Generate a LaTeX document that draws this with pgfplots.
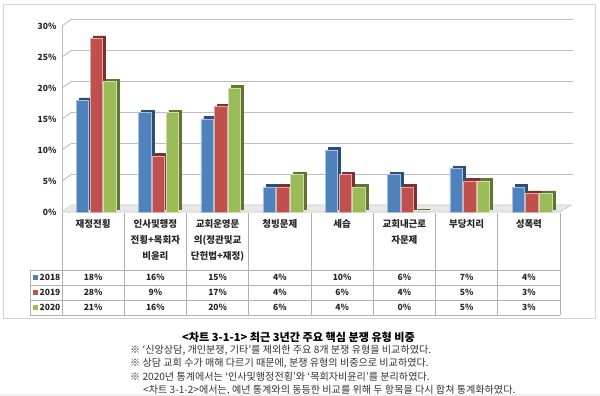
\documentclass[border=0pt]{standalone}
\usepackage{fontspec}
\setmainfont{Noto Sans CJK KR}
\usepackage{pgfplots}
\usepackage{pgfplotstable}
\pgfplotsset{compat=1.18}
\definecolor{cb}{HTML}{4F81BD}
\definecolor{cbd}{HTML}{2C4D75}
\definecolor{cbl}{HTML}{A7C0DE}
\definecolor{cr}{HTML}{C0504D}
\definecolor{crd}{HTML}{7F302E}
\definecolor{crl}{HTML}{E0A8A6}
\definecolor{cg}{HTML}{9BBB59}
\definecolor{cgd}{HTML}{5F7530}
\definecolor{cgl}{HTML}{CDDDAC}
\definecolor{gridc}{HTML}{BDBDBD}
\definecolor{tabc}{HTML}{B0B0B0}
\pgfplotstableread{
x a b c
0 18 28 21
1 16 9 16
2 15 17 20
3 4 4 6
4 10 6 4
5 6 4 0
6 7 5 5
7 4 3 3
}\data
\begin{document}
\begin{tikzpicture}[x=1pt,y=1pt]
\useasboundingbox (0,0) rectangle (600,396);
\fill[white] (0,0) rectangle (600,396);
% outer frame
\draw[gray!35, line width=1pt] (3,77) rectangle (595,391);
% back wall gridlines
\begin{axis}[at={(72pt,191pt)}, anchor=south west, scale only axis,
  width=501pt, height=186pt, xmin=0, xmax=1, ymin=0, ymax=30,
  xtick=\empty, ytick={5,10,...,30}, yticklabels={}, ymajorgrids,
  grid style={gridc, line width=0.9pt}, axis line style={draw=none},
  major tick length=0pt]
\addplot[draw=none] coordinates {(0,0) (1,30)};
\end{axis}
% left wall
\foreach \v in {0,5,...,30}
  \draw[gridc, line width=0.9pt] (62,{184+6.2*\v}) -- (72,{191+6.2*\v});
\draw[gridc, line width=0.9pt] (62,184) -- (62,370);
% floor
\fill[gray!18] (62,184) -- (560,184) -- (571,191) -- (72,191) -- cycle;
\draw[gray!45, line width=0.7pt] (62,184) -- (560,184) -- (571,191) -- (72,191);
% bars
\begin{axis}[at={(62pt,184pt)}, anchor=south west, scale only axis,
  width=498pt, height=186pt, xmin=-0.5, xmax=7.5, ymin=0, ymax=30,
  ybar, bar width=0.2, axis line style={draw=none}, major tick length=0pt,
  clip=false,
  xtick={0,...,7},
  xticklabels={재정전횡, {인사및행정\\전횡+목회자\\비윤리}, {교회운영문\\의(정관및교\\단헌법+재정)}, 청빙문제, 세습, {교회내근로\\자문제}, 부당치리, 성폭력},
  xticklabel style={align=center, anchor=north, font=\fontsize{9.5}{16}\selectfont\bfseries, text=black!85, yshift=-4pt},
  ytick={0,5,...,30},
  yticklabels={0\%,5\%,10\%,15\%,20\%,25\%,30\%},
  yticklabel style={font=\fontsize{8.5}{10}\selectfont\bfseries, text=black!85, xshift=-2pt}]
\addplot[fill=cb, draw=cbl, line width=0.6pt, bar shift=-0.17,
  preaction={fill=cbd, draw=cbd, transform canvas={shift={(3pt,2.5pt)}}}] table[x=x,y=a]{\data};
\addplot[fill=cr, draw=crl, line width=0.6pt, bar shift=0.05,
  preaction={fill=crd, draw=crd, transform canvas={shift={(3pt,2.5pt)}}}] table[x=x,y=b]{\data};
\addplot[fill=cg, draw=cgl, line width=0.6pt, bar shift=0.27,
  preaction={fill=cgd, draw=cgd, transform canvas={shift={(3pt,2.5pt)}}}] table[x=x,y=c]{\data};
\end{axis}
% table values
\begin{axis}[at={(62pt,184pt)}, anchor=south west, scale only axis,
  width=498pt, height=186pt, xmin=-0.5, xmax=7.5, ymin=0, ymax=30,
  hide axis, clip=false,
  /pgf/number format/assume math mode=true,
  nodes near coords={\pgfmathprintnumber{\pgfplotspointmeta}\%},
  nodes near coords align=center,
  every node near coord/.append style={font=\fontsize{8.5}{10}\selectfont\bfseries, text=black!85, inner sep=0pt}]
\addplot[draw=none, mark=none, point meta=explicit] table[x=x, y expr=-10.56, meta=a]{\data};
\addplot[draw=none, mark=none, point meta=explicit] table[x=x, y expr=-12.98, meta=b]{\data};
\addplot[draw=none, mark=none, point meta=explicit] table[x=x, y expr=-15.40, meta=c]{\data};
\end{axis}
% table grid
\foreach \k in {0,...,8}
  \draw[tabc, line width=0.7pt] ({62+62.25*\k},183) -- ({62+62.25*\k},81);
\draw[tabc, line width=0.7pt] (30,126) -- (30,81);
\foreach \yy in {126,111,96,81}
  \draw[tabc, line width=0.7pt] (30,\yy) -- (560,\yy);
% legend cells
\fill[cb] (33,116) rectangle (38,121);
\fill[cr] (33,101) rectangle (38,106);
\fill[cg] (33,86) rectangle (38,91);
\node[anchor=west, inner sep=0pt, font=\fontsize{8.5}{10}\selectfont\bfseries, text=black!85] at (39.5,118.5) {2018};
\node[anchor=west, inner sep=0pt, font=\fontsize{8.5}{10}\selectfont\bfseries, text=black!85] at (39.5,103.5) {2019};
\node[anchor=west, inner sep=0pt, font=\fontsize{8.5}{10}\selectfont\bfseries, text=black!85] at (39.5,88.5) {2020};
% caption and notes
\node[font=\fontsize{11.1}{13}\selectfont\bfseries, inner sep=0pt] at (298.5,59) {<차트 3-1-1> 최근 3년간 주요 핵심 분쟁 유형 비중};
\node[anchor=west, inner sep=0pt, font=\fontsize{10.1}{11}\selectfont, text=black!80] at (130,46) {※ ‘신앙상담, 개인분쟁, 기타’를 제외한 주요 8개 분쟁 유형을 비교하였다.};
\node[anchor=west, inner sep=0pt, font=\fontsize{10.1}{11}\selectfont, text=black!80] at (130,32.5) {※ 상담 교회 수가 매해 다르기 때문에, 분쟁 유형의 비중으로 비교하였다.};
\node[anchor=west, inner sep=0pt, font=\fontsize{10.1}{11}\selectfont, text=black!80] at (130,19) {※ 2020년 통계에서는 ‘인사및행정전횡’와 ‘목회자비윤리’를 분리하였다.};
\node[anchor=west, inner sep=0pt, font=\fontsize{10.1}{11}\selectfont, text=black!80] at (143,6) {<차트 3-1-2>에서는, 예년 통계와의 동등한 비교를 위해 두 항목을 다시 합쳐 통계화하였다.};
\fill[gray!12] (0,0) rectangle (600,2);
\end{tikzpicture}
\end{document}
